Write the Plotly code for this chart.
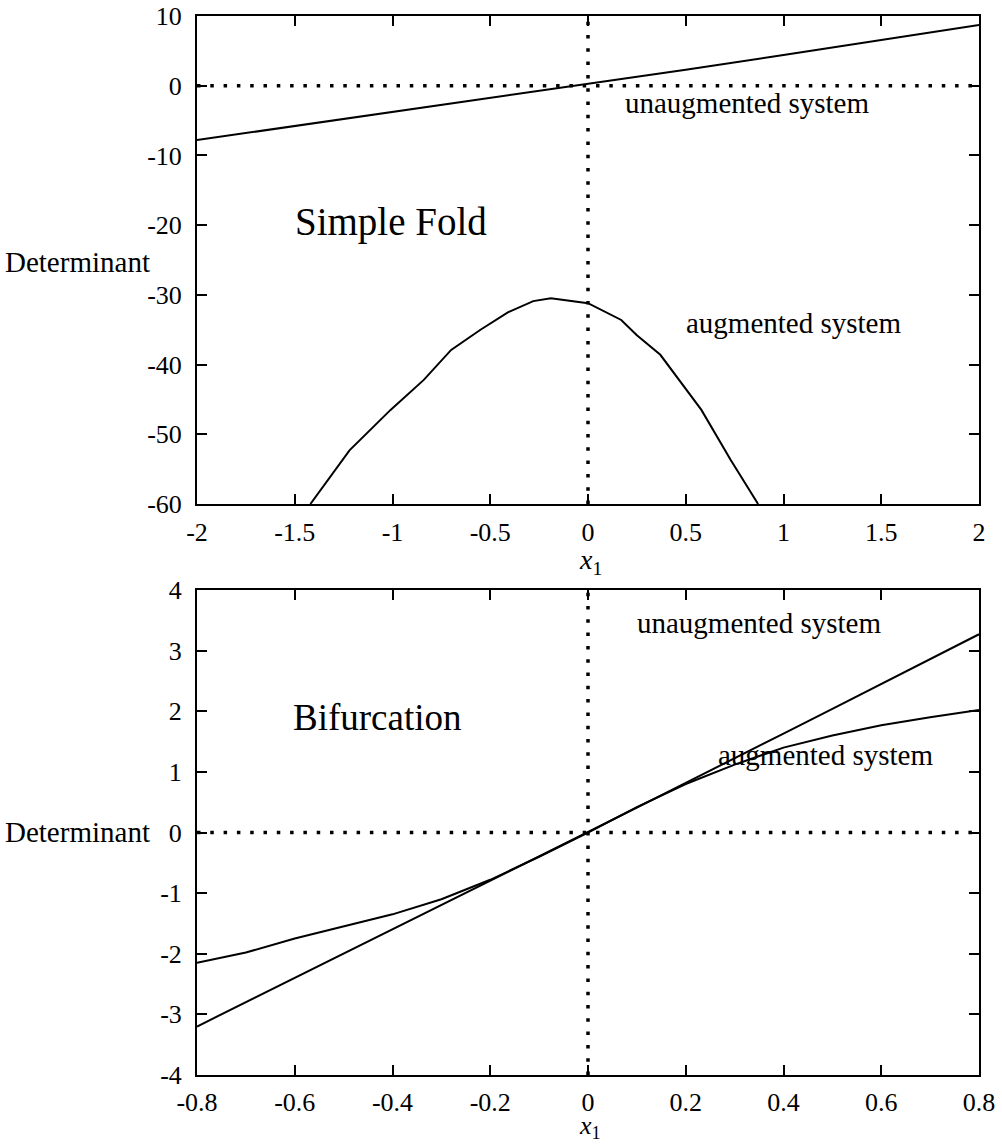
import plotly.graph_objects as go

W, H = 1002, 1145
FONT = "Liberation Serif"

# ---------------- data: top panel (Simple Fold) ----------------
fold_x_unaug = [-2.0, -1.5, -1.0, -0.5, 0.0, 0.5, 1.0, 1.5, 2.0]
fold_y_unaug = [-7.8, -5.8, -3.8, -1.8, 0.2, 2.3, 4.4, 6.5, 8.7]

fold_x_aug = [-1.42, -1.22, -1.01, -0.84, -0.70, -0.55, -0.41, -0.28, -0.19,
              0.0, 0.17, 0.25, 0.37, 0.5, 0.58, 0.73, 0.87]
fold_y_aug = [-60.0, -52.3, -46.5, -42.2, -37.9, -35.0, -32.5, -30.9, -30.5,
              -31.2, -33.6, -35.8, -38.6, -43.5, -46.5, -53.7, -60.0]

fold_xticks = [-2, -1.5, -1, -0.5, 0, 0.5, 1, 1.5, 2]
fold_xticklabels = ["-2", "-1.5", "-1", "-0.5", "0", "0.5", "1", "1.5", "2"]
fold_yticks = [10, 0, -10, -20, -30, -40, -50, -60]
fold_yticklabels = ["10", "0", "-10", "-20", "-30", "-40", "-50", "-60"]

# ---------------- data: bottom panel (Bifurcation) ----------------
bif_x = [-0.8, -0.7, -0.6, -0.5, -0.4, -0.3, -0.2, -0.1, 0.0, 0.1, 0.2, 0.3, 0.4, 0.5, 0.6, 0.7, 0.8]
bif_y_unaug = [-3.2, -2.8, -2.4, -2.0, -1.6, -1.2, -0.8, -0.4, 0.0, 0.41, 0.82, 1.22, 1.63, 2.04, 2.45, 2.86, 3.27]
bif_y_aug = [-2.15, -1.98, -1.75, -1.55, -1.35, -1.1, -0.78, -0.4, 0.0, 0.42, 0.8, 1.12, 1.4, 1.6, 1.77, 1.9, 2.02]

bif_xticks = [-0.8, -0.6, -0.4, -0.2, 0, 0.2, 0.4, 0.6, 0.8]
bif_xticklabels = ["-0.8", "-0.6", "-0.4", "-0.2", "0", "0.2", "0.4", "0.6", "0.8"]
bif_yticks = [4, 3, 2, 1, 0, -1, -2, -3, -4]
bif_yticklabels = ["4", "3", "2", "1", "0", "-1", "-2", "-3", "-4"]

# reference (dotted) lines
fold_xrange = [-2, 2]
fold_yrange = [-60, 10]
bif_xrange = [-0.8, 0.8]
bif_yrange = [-4, 4]

# ---------------- layout geometry (pixels) ----------------
L, R = 197, 979
T1, B1 = 16, 504
T2, B2 = 590, 1075

def px(x):
    return x / W

def py(y):
    return 1 - y / H

fig = go.Figure()

line_style = dict(color="black", width=2)
dot_style = dict(color="black", width=3.5, dash="3.5px,9.8px")

# top panel traces
fig.add_trace(go.Scatter(x=fold_xrange, y=[0, 0], mode="lines", line=dot_style, xaxis="x", yaxis="y"))
fig.add_trace(go.Scatter(x=[0, 0], y=fold_yrange, mode="lines", line=dot_style, xaxis="x", yaxis="y"))
fig.add_trace(go.Scatter(x=fold_x_unaug, y=fold_y_unaug, mode="lines", line=line_style, xaxis="x", yaxis="y"))
fig.add_trace(go.Scatter(x=fold_x_aug, y=fold_y_aug, mode="lines", line=line_style, xaxis="x", yaxis="y"))

# bottom panel traces
fig.add_trace(go.Scatter(x=bif_xrange, y=[0, 0], mode="lines", line=dot_style, xaxis="x2", yaxis="y2"))
fig.add_trace(go.Scatter(x=[0, 0], y=bif_yrange, mode="lines", line=dot_style, xaxis="x2", yaxis="y2"))
fig.add_trace(go.Scatter(x=bif_x, y=bif_y_unaug, mode="lines", line=line_style, xaxis="x2", yaxis="y2"))
fig.add_trace(go.Scatter(x=bif_x, y=bif_y_aug, mode="lines", line=line_style, xaxis="x2", yaxis="y2"))

tickfont = dict(family=FONT, size=26, color="black")
axis_common = dict(
    showgrid=False, zeroline=False, showline=True, linecolor="black", linewidth=2,
    mirror="ticks", ticks="inside", ticklen=10, tickwidth=2, tickcolor="black",
    tickfont=tickfont, automargin=False,
)

fig.update_layout(
    width=W, height=H,
    margin=dict(l=0, r=0, t=0, b=0),
    paper_bgcolor="white", plot_bgcolor="white",
    showlegend=False,
    xaxis=dict(domain=[px(L), px(R)], range=fold_xrange, tickvals=fold_xticks,
               ticktext=fold_xticklabels, anchor="y", ticklabelstandoff=4, **axis_common),
    yaxis=dict(domain=[py(B1), py(T1)], range=fold_yrange, tickvals=fold_yticks,
               ticktext=fold_yticklabels, anchor="x", ticklabelstandoff=8, **axis_common),
    xaxis2=dict(domain=[px(L), px(R)], range=bif_xrange, tickvals=bif_xticks,
                ticktext=bif_xticklabels, anchor="y2", ticklabelstandoff=3, **axis_common),
    yaxis2=dict(domain=[py(B2), py(T2)], range=bif_yrange, tickvals=bif_yticks,
                ticktext=bif_yticklabels, anchor="x2", ticklabelstandoff=8, **axis_common),
)

def ann(text, x, y, size=29, xanchor="center"):
    fig.add_annotation(text=text, x=px(x), y=py(y), xref="paper", yref="paper",
                       showarrow=False, xanchor=xanchor, yanchor="middle",
                       font=dict(family=FONT, size=size, color="black"))

ann("Determinant", 152, 262, xanchor="right")
ann("Determinant", 152, 832, xanchor="right")
ann("<i>x</i><sub>1</sub>", 590, 561, size=28)
ann("<i>x</i><sub>1</sub>", 590, 1127, size=26)
ann("Simple Fold", 391, 222, size=39)
ann("Bifurcation", 377, 717, size=37)
ann("unaugmented system", 747, 103)
ann("augmented system", 793, 323)
ann("unaugmented system", 759, 623)
ann("augmented system", 825, 755)

fig.write_html("out.html")
